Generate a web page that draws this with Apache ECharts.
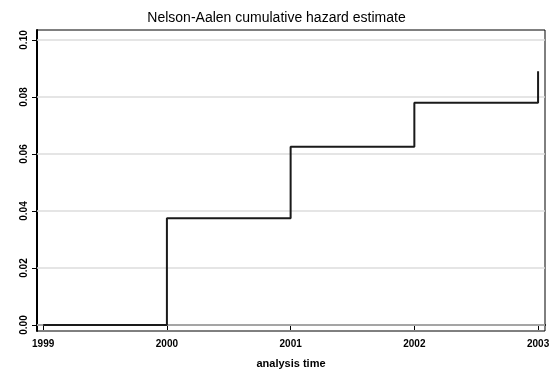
<!DOCTYPE html>
<html><head><meta charset="utf-8">
<script src="https://cdn.jsdelivr.net/npm/echarts@6/dist/echarts.min.js"></script>
<style>html,body{margin:0;padding:0;background:#fff}#c{width:553px;height:379px}</style>
</head><body><div id="c"></div>
<script>
const times = [1999, 2000, 2001, 2002, 2003];
const hazard = [0, 0.0375, 0.0625, 0.078, 0.089];
const xTicks = [1999, 2000, 2001, 2002, 2003];
const yTicks = [0, 0.02, 0.04, 0.06, 0.08, 0.10];

const chart = echarts.init(document.getElementById('c'));
const font = 'Liberation Sans';
chart.setOption({
  animation: false,
  title: {
    text: 'Nelson-Aalen cumulative hazard estimate',
    left: 'center', top: 6,
    textStyle: {fontFamily: font, fontSize: 14, fontWeight: 'normal', color: '#000'}
  },
  grid: {left: 37, right: 8, top: 30, bottom: 48, show: true, borderColor: '#000', borderWidth: 1},
  xAxis: {
    type: 'value', min: 1998.95, max: 2003.056,
    name: 'analysis time', nameLocation: 'middle', nameGap: 27,
    nameTextStyle: {fontFamily: font, fontSize: 11, color: '#000', fontWeight: 'bold'},
    axisLine: {show: true, lineStyle: {color: '#000', width: 2}},
    axisTick: {show: true, customValues: xTicks, length: 5, lineStyle: {color: '#000', width: 1}},
    axisLabel: {customValues: xTicks, fontFamily: font, fontSize: 10, fontWeight: 'bold', color: '#000', margin: 8, formatter: v => String(Math.round(v))},
    splitLine: {show: false}
  },
  yAxis: {
    type: 'value', min: -0.0021, max: 0.1035,
    axisLine: {show: true, lineStyle: {color: '#000', width: 2}},
    axisTick: {show: true, customValues: yTicks, length: 5, lineStyle: {color: '#000', width: 1}},
    axisLabel: {customValues: yTicks, rotate: 90, fontFamily: font, fontSize: 10, fontWeight: 'bold', color: '#000', margin: 8, formatter: v => v.toFixed(2)},
    splitLine: {show: false}
  },
  series: [{
    type: 'line', data: [], z: 1,
    markLine: {
      silent: true, symbol: 'none', label: {show: false}, z: 1,
      lineStyle: {color: '#dcdcdc', width: 1.5, type: 'solid'},
      data: yTicks.map(v => ({yAxis: v}))
    }
  }, {
    type: 'line', step: 'end', symbol: 'none',
    data: times.map((t, i) => [t, hazard[i]]),
    lineStyle: {color: '#1a1a1a', width: 2},
    z: 5
  }]
});
</script></body></html>
